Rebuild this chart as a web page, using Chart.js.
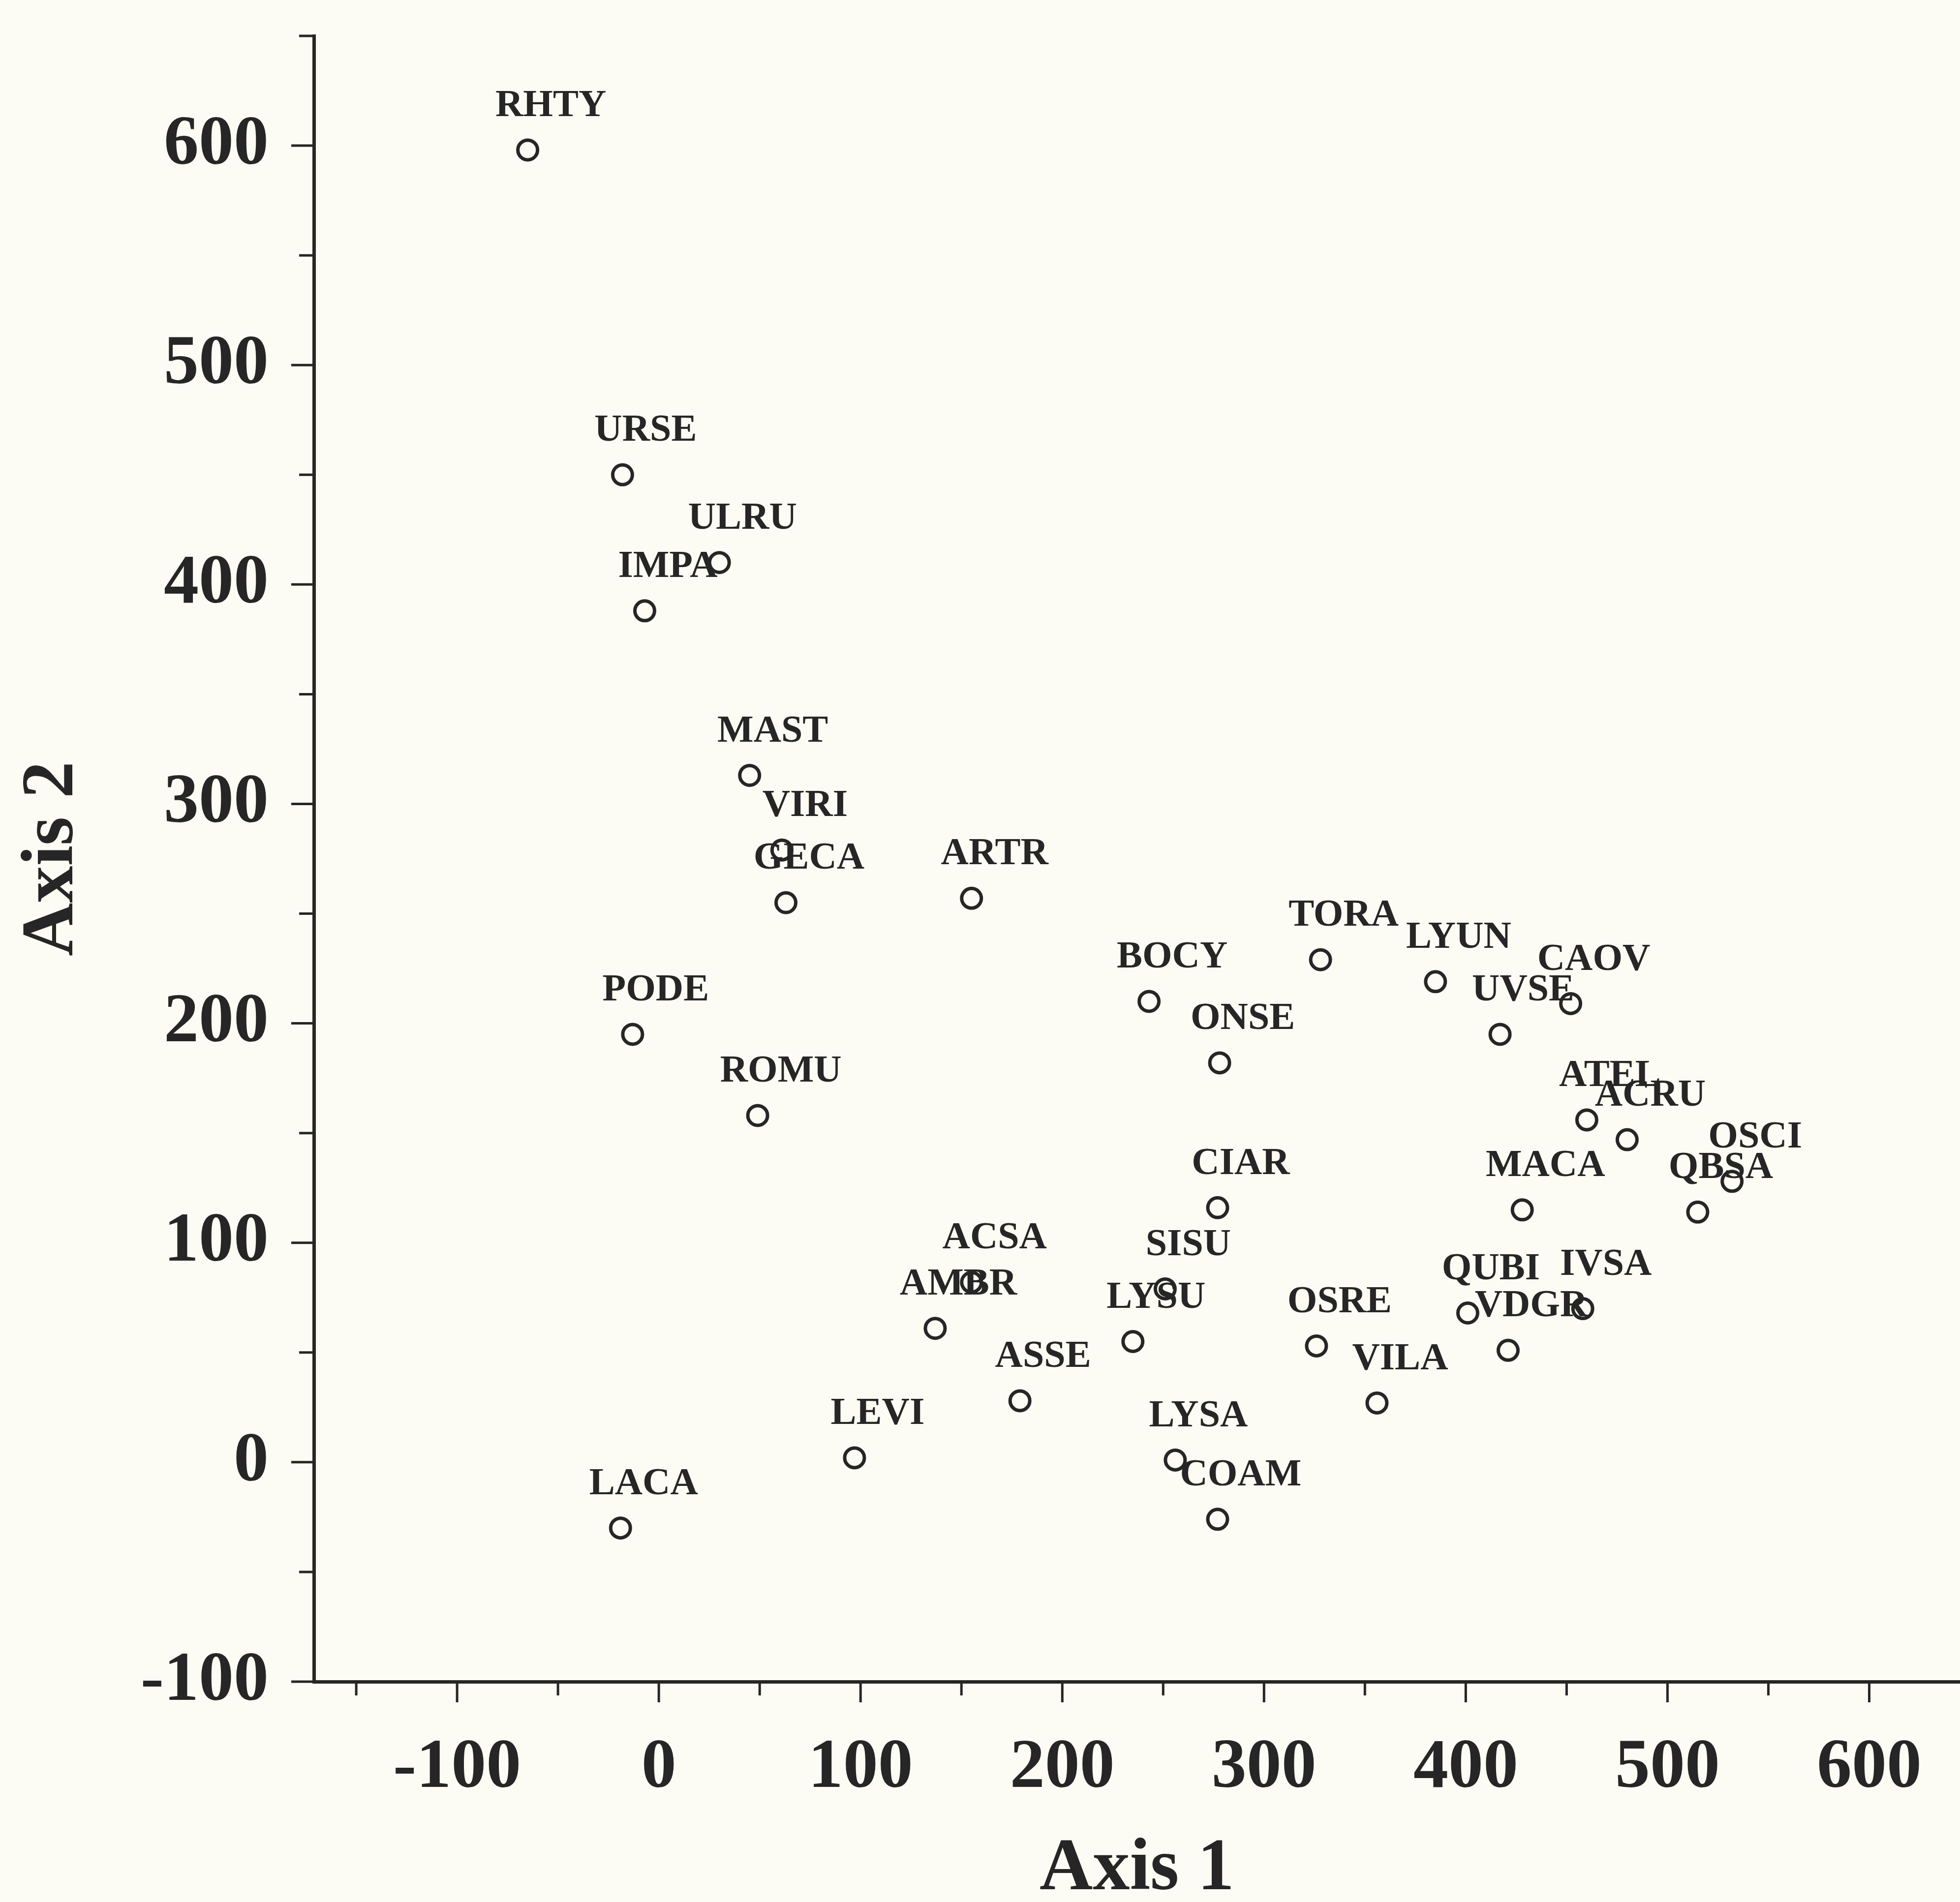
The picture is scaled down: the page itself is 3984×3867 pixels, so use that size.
<!DOCTYPE html>
<html lang="en">
<head>
  <meta charset="UTF-8" />
  <title>Axis 1 / Axis 2 ordination</title>
  <script src="https://cdn.jsdelivr.net/npm/chart.js"></script>
  <style>
    html, body { margin: 0; padding: 0; background: #fcfcf4; overflow: hidden; }
    canvas { display: block; }
  </style>
</head>
<body>
  <canvas id="chart" width="3984" height="3867"></canvas>
  <script>
    // species codes and their scores on the two ordination axes
    const speciesCodes = ['RHTY', 'URSE', 'ULRU', 'IMPA', 'MAST', 'VIRI', 'GECA', 'ARTR', 'PODE', 'ROMU',
      'BOCY', 'TORA', 'ONSE', 'LYUN', 'CAOV', 'UVSE', 'ATEL', 'ACRU', 'OSCI', 'QBSA',
      'MACA', 'CIAR', 'ACSA', 'AMBR', 'SISU', 'LYSU', 'ASSE', 'OSRE', 'VILA', 'QUBI',
      'IVSA', 'VDGR', 'LEVI', 'LACA', 'LYSA', 'COAM'];
    const axis1Scores = [-65, -18, 30, -7, 45, 61, 63, 155, -13, 49,
      243, 328, 278, 385, 452, 417, 460, 480, 532, 515,
      428, 277, 155, 137, 251, 235, 179, 326, 356, 401,
      458, 421, 97, -19, 256, 277];
    const axis2Scores = [598, 450, 410, 388, 313, 279, 255, 257, 195, 158,
      210, 229, 182, 219, 209, 195, 156, 147, 128, 114,
      115, 116, 82, 61, 79, 55, 28, 53, 27, 68,
      70, 51, 2, -30, 1, -26];

    const xTickLabels = [-100, 0, 100, 200, 300, 400, 500, 600];
    const yTickLabels = [-100, 0, 100, 200, 300, 400, 500, 600];

    const ink = '#262626';
    const serif = "'Liberation Serif', 'Times New Roman', serif";

    const points = speciesCodes.map((code, i) => ({ x: axis1Scores[i], y: axis2Scores[i], code }));

    // paper background
    const paper = {
      id: 'paper',
      beforeDraw(chart) {
        const c = chart.ctx;
        c.save();
        c.fillStyle = '#fcfcf4';
        c.fillRect(0, 0, chart.width, chart.height);
        c.restore();
      }
    };

    // long ticks every 100, short ones in between
    const tickMarks = {
      id: 'tickMarks',
      afterDraw(chart) {
        const c = chart.ctx;
        const { x, y } = chart.scales;
        c.save();
        c.strokeStyle = ink;
        c.lineWidth = 5;
        c.beginPath();
        x.ticks.forEach(t => {
          const px = x.getPixelForValue(t.value);
          const len = t.value % 100 === 0 ? 42 : 28;
          c.moveTo(px, x.top);
          c.lineTo(px, x.top + len);
        });
        y.ticks.forEach(t => {
          const py = y.getPixelForValue(t.value);
          const len = t.value % 100 === 0 ? 46 : 30;
          c.moveTo(y.right - len, py);
          c.lineTo(y.right, py);
        });
        c.stroke();
        c.restore();
      }
    };

    // species code written above-right of each circle
    const pointLabels = {
      id: 'pointLabels',
      afterDatasetsDraw(chart) {
        const c = chart.ctx;
        const meta = chart.getDatasetMeta(0);
        c.save();
        c.fillStyle = ink;
        c.font = 'bold 78px ' + serif;
        c.textAlign = 'center';
        c.textBaseline = 'middle';
        meta.data.forEach((el, i) => {
          c.fillText(speciesCodes[i], el.x + 47, el.y - 89);
        });
        c.restore();
      }
    };

    new Chart(document.getElementById('chart'), {
      type: 'scatter',
      data: {
        datasets: [{
          data: points,
          pointStyle: 'circle',
          pointRadius: 20,
          pointBorderWidth: 7,
          pointBackgroundColor: 'rgba(0,0,0,0)',
          pointBorderColor: ink
        }]
      },
      options: {
        responsive: false,
        animation: false,
        devicePixelRatio: 1,
        layout: { autoPadding: false, padding: { left: 0, top: 73, right: 0, bottom: 0 } },
        plugins: {
          legend: { display: false },
          tooltip: { enabled: false }
        },
        scales: {
          x: {
            type: 'linear',
            min: -171,
            max: 645,
            afterFit: s => { s.height = 448; s.paddingLeft = 0; s.paddingRight = 0; },
            border: { display: true, color: ink, width: 7 },
            grid: { display: false, drawTicks: true, tickLength: 42 },
            ticks: {
              stepSize: 50,
              includeBounds: false,
              autoSkip: false,
              maxRotation: 0,
              padding: 64,
              color: ink,
              font: { family: serif, size: 142, weight: 'bold', lineHeight: 1 },
              callback: v => xTickLabels.includes(v) ? String(v) : ''
            },
            title: {
              display: true,
              text: 'Axis 1',
              color: ink,
              padding: 0,
              font: { family: serif, size: 150, weight: 'bold', lineHeight: 0.87 }
            }
          },
          y: {
            type: 'linear',
            min: -100,
            max: 650,
            afterFit: s => { s.width = 638; s.paddingTop = 0; s.paddingBottom = 0; },
            border: { display: true, color: ink, width: 7 },
            grid: { display: false, drawTicks: true, tickLength: 46 },
            ticks: {
              stepSize: 50,
              includeBounds: false,
              autoSkip: false,
              padding: 46,
              color: ink,
              font: { family: serif, size: 142, weight: 'bold', lineHeight: 1 },
              callback: v => yTickLabels.includes(v) ? String(v) : ''
            },
            title: {
              display: true,
              text: 'Axis 2',
              color: ink,
              padding: { top: 33, bottom: 0 },
              font: { family: serif, size: 150, weight: 'bold', lineHeight: 1 }
            }
          }
        }
      },
      plugins: [paper, tickMarks, pointLabels]
    });
  </script>
</body>
</html>
